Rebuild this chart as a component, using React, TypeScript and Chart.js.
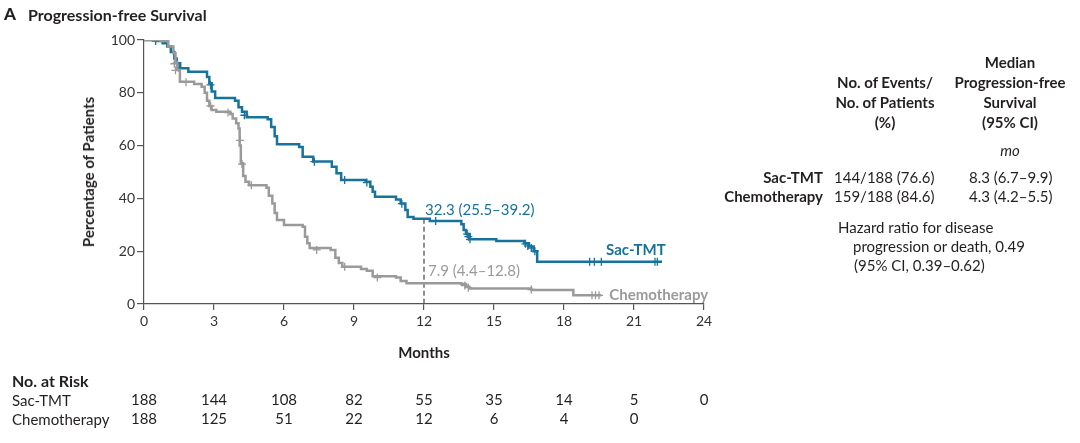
import React, { useEffect, useRef } from 'react';
import { Chart, registerables } from 'chart.js';

Chart.register(...registerables);

const BLUE = '#17739b';
const GRAY = '#9a9a9a';
const INK = '#231f20';
const FONT = 'Lato, "Noto Sans", sans-serif';

// Kaplan-Meier steps: [month, percent after the step]
const sacTmtCurve: [number, number][] = [
  [0, 100], [0.5, 99.6], [0.8, 98.8], [1.0, 97.5], [1.15, 95.5], [1.3, 93], [1.4, 91.2],
  [1.55, 89.3], [1.9, 88], [2.7, 86], [2.8, 83.6], [2.9, 80.5], [3.05, 78], [3.9, 77],
  [4.05, 74.5], [4.2, 72.8], [4.4, 70.7], [5.3, 70], [5.45, 67], [5.6, 63.5], [5.7, 60.5],
  [6.65, 59.5], [6.8, 55.8], [7.25, 54], [8.05, 52], [8.25, 49.5], [8.45, 47], [9.5, 46.3],
  [9.7, 44.4], [9.8, 42.5], [9.9, 40.6], [10.8, 39.6], [11.0, 38.1], [11.2, 35.6],
  [11.3, 33], [11.55, 32.3], [12.25, 31.4], [13.6, 30.2], [13.7, 28], [13.8, 26.5],
  [13.95, 24.5], [15.1, 23.9], [16.3, 23], [16.5, 21.8], [16.7, 20], [16.85, 16], [22.2, 16],
];

const chemoCurve: [number, number][] = [
  [0, 100], [0.7, 99.6], [1.04, 97.5], [1.26, 95], [1.35, 91.5], [1.42, 88.6], [1.54, 84.2],
  [2.15, 83.3], [2.47, 82.3], [2.6, 80], [2.7, 77], [2.8, 75], [2.9, 73.5], [3.1, 72.8],
  [3.7, 72], [3.8, 70.3], [3.95, 68.5], [4.05, 66.5], [4.1, 60], [4.15, 53.3], [4.25, 48.5],
  [4.35, 46.3], [4.5, 45], [5.25, 44], [5.35, 41], [5.5, 38.1], [5.6, 34.5], [5.7, 31.8],
  [6.0, 29.9], [6.8, 29.3], [6.9, 25.5], [7.0, 23], [7.1, 21.2], [8.0, 20.5], [8.2, 17.5],
  [8.35, 15.5], [8.5, 14.1], [9.3, 13.3], [9.55, 12.6], [9.8, 10.5], [10.8, 10], [11.0, 8.7],
  [11.25, 7.9], [13.6, 7.6], [13.8, 6.5], [13.95, 5.9], [16.6, 5.3], [18.4, 3.3], [19.6, 3.3],
];

const sacTmtCensored: [number, number][] = [
  [0.5, 99.6], [1.4, 91.2], [1.5, 89.5], [2.85, 83], [4.3, 71.5], [7.3, 53.9], [8.6, 47],
  [9.55, 46], [11.05, 38], [12.5, 31.4], [13.85, 26.5], [13.9, 25.5], [13.97, 24.5],
  [16.35, 22.8], [16.45, 22], [16.6, 21.2], [16.75, 20], [19.1, 16], [19.3, 16], [19.6, 16],
  [21.9, 16], [22.0, 16],
];

const chemoCensored: [number, number][] = [
  [1.3, 91], [1.35, 88.5], [1.8, 84], [2.85, 75], [3.6, 72.5], [4.12, 62], [4.2, 53],
  [4.6, 45], [7.4, 20.5], [8.6, 14.1], [10.0, 10], [13.75, 7], [13.9, 6.2], [16.6, 5.5],
  [19.2, 3.3], [19.35, 3.3], [19.5, 3.3],
];

const riskMonths = [0, 3, 6, 9, 12, 15, 18, 21, 24];
const sacTmtAtRisk = [188, 144, 108, 82, 55, 35, 14, 5, 0];
const chemoAtRisk = [188, 125, 51, 22, 12, 6, 4, 0];

const landmarkMonth = 12;
const sacTmtLandmark = { value: 32.3, label: '32.3 (25.5\u201339.2)' };
const chemoLandmark = { value: 7.9, label: '7.9 (4.4\u201312.8)' };

const toPoints = (arr: [number, number][]) => arr.map(([x, y]) => ({ x, y }));

const labelPlugin = {
  id: 'kmLabels',
  afterDraw(chart: any) {
    const { ctx, scales } = chart;
    const xs = scales.x;
    const ys = scales.y;
    ctx.save();
    ctx.textBaseline = 'middle';

    // 12-month landmark labels
    ctx.font = `15px ${FONT}`;
    ctx.textAlign = 'left';
    ctx.fillStyle = BLUE;
    ctx.fillText(sacTmtLandmark.label, xs.getPixelForValue(landmarkMonth) + 1, ys.getPixelForValue(sacTmtLandmark.value) - 9);
    ctx.fillStyle = GRAY;
    ctx.fillText(chemoLandmark.label, xs.getPixelForValue(landmarkMonth) + 4, ys.getPixelForValue(chemoLandmark.value) - 12);

    // series labels
    const lastSac = sacTmtCurve[sacTmtCurve.length - 1];
    const lastChemo = chemoCurve[chemoCurve.length - 1];
    ctx.font = `bold 15px ${FONT}`;
    ctx.fillStyle = BLUE;
    ctx.fillText('Sac-TMT', xs.getPixelForValue(19.8), ys.getPixelForValue(lastSac[1]) - 12);
    ctx.fillStyle = GRAY;
    ctx.fillText('Chemotherapy', xs.getPixelForValue(lastChemo[0]) + 8, ys.getPixelForValue(lastChemo[1]));

    // number at risk
    ctx.font = `15px ${FONT}`;
    ctx.fillStyle = INK;
    ctx.textAlign = 'center';
    riskMonths.forEach((m, i) => {
      const px = xs.getPixelForValue(m);
      if (sacTmtAtRisk[i] !== undefined) ctx.fillText(String(sacTmtAtRisk[i]), px, 400);
      if (chemoAtRisk[i] !== undefined) ctx.fillText(String(chemoAtRisk[i]), px, 419);
    });
    ctx.restore();
  },
};

const cell: React.CSSProperties = { position: 'absolute', whiteSpace: 'nowrap', lineHeight: '20px' };

const App: React.FC = () => {
  const canvasRef = useRef<HTMLCanvasElement | null>(null);
  const chartRef = useRef<Chart | null>(null);

  useEffect(() => {
    document.body.style.margin = '0';
    if (!canvasRef.current) return;
    if (chartRef.current) chartRef.current.destroy();

    chartRef.current = new Chart(canvasRef.current, {
      type: 'line',
      data: {
        datasets: [
          {
            label: 'Chemotherapy censored',
            data: toPoints(chemoCensored),
            showLine: false,
            pointStyle: 'cross',
            pointRadius: 4,
            pointBorderWidth: 1.3,
            borderColor: GRAY,
            order: 0,
          },
          {
            label: 'Chemotherapy',
            data: toPoints(chemoCurve),
            stepped: 'before',
            borderColor: GRAY,
            borderWidth: 2.5,
            pointRadius: 0,
            order: 1,
          },
          {
            label: 'Sac-TMT censored',
            data: toPoints(sacTmtCensored),
            showLine: false,
            pointStyle: 'cross',
            pointRadius: 4,
            pointBorderWidth: 1.3,
            borderColor: BLUE,
            order: 2,
          },
          {
            label: 'Sac-TMT',
            data: toPoints(sacTmtCurve),
            stepped: 'before',
            borderColor: BLUE,
            borderWidth: 2.5,
            pointRadius: 0,
            order: 3,
          },
          {
            label: 'landmark',
            data: [
              { x: landmarkMonth, y: sacTmtLandmark.value },
              { x: landmarkMonth, y: 0 },
            ],
            borderColor: '#555',
            borderWidth: 1.3,
            borderDash: [5, 3],
            pointRadius: 0,
            order: 4,
          },
        ],
      },
      options: {
        animation: false,
        responsive: false,
        events: [],
        layout: { padding: { left: 0, top: 40, right: 376, bottom: 0 } },
        plugins: { legend: { display: false }, tooltip: { enabled: false } },
        scales: {
          x: {
            type: 'linear',
            min: 0,
            max: 24,
            afterFit: (s: any) => { s.height = 139; },
            ticks: { stepSize: 3, color: '#333', font: { family: FONT, size: 14 }, padding: 3 },
            grid: { drawOnChartArea: false, drawTicks: true, tickLength: 6, color: '#555', lineWidth: 1.2 },
            border: { color: '#555', width: 1.2 },
          },
          y: {
            type: 'linear',
            min: 0,
            max: 100,
            afterFit: (s: any) => { s.width = 144; },
            ticks: { stepSize: 20, color: '#333', font: { family: FONT, size: 14 }, padding: 2 },
            grid: { drawOnChartArea: false, drawTicks: true, tickLength: 7, color: '#555', lineWidth: 1.2 },
            border: { color: '#555', width: 1.2 },
          },
        },
      },
      plugins: [labelPlugin],
    } as any);

    return () => {
      chartRef.current?.destroy();
      chartRef.current = null;
    };
  }, []);

  return (
    <div style={{ position: 'relative', width: 1080, height: 443, fontFamily: FONT, color: INK, fontSize: 15 }}>
      <canvas ref={canvasRef} width={1080} height={443} style={{ position: 'absolute', left: 0, top: 0 }} />

      <div style={{ ...cell, left: 4, top: 4, fontWeight: 900, fontSize: 17 }}>A</div>
      <div style={{ ...cell, left: 28, top: 5, fontWeight: 700, fontSize: 16 }}>Progression-free Survival</div>

      <div
        style={{
          ...cell,
          left: 88,
          top: 172,
          fontWeight: 700,
          transform: 'translate(-50%, -50%) rotate(-90deg)',
        }}
      >
        Percentage of Patients
      </div>
      <div style={{ ...cell, left: 424, top: 342, fontWeight: 700, transform: 'translateX(-50%)' }}>Months</div>

      <div style={{ ...cell, left: 12, top: 371, fontWeight: 700, fontSize: 16 }}>No. at Risk</div>
      <div style={{ ...cell, left: 12, top: 390 }}>Sac-TMT</div>
      <div style={{ ...cell, left: 12, top: 409 }}>Chemotherapy</div>

      <div style={{ ...cell, left: 885, top: 72, width: 0, textAlign: 'center', fontWeight: 700 }}>
        <div style={{ transform: 'translateX(-50%)', display: 'inline-block' }}>
          No. of Events/<br />No. of Patients<br />(%)
        </div>
      </div>
      <div style={{ ...cell, left: 1010, top: 52, width: 0, textAlign: 'center', fontWeight: 700 }}>
        <div style={{ transform: 'translateX(-50%)', display: 'inline-block' }}>
          Median<br />Progression-free<br />Survival<br />(95% CI)
        </div>
      </div>
      <div style={{ ...cell, left: 1010, top: 140, fontStyle: 'italic', transform: 'translateX(-50%)' }}>mo</div>

      <div style={{ ...cell, right: 1080 - 823, top: 167, fontWeight: 700 }}>Sac-TMT</div>
      <div style={{ ...cell, right: 1080 - 823, top: 186, fontWeight: 700 }}>Chemotherapy</div>
      <div style={{ ...cell, left: 834, top: 167 }}>144/188 (76.6)</div>
      <div style={{ ...cell, left: 834, top: 186 }}>159/188 (84.6)</div>
      <div style={{ ...cell, left: 969, top: 167 }}>8.3 (6.7{'\u2013'}9.9)</div>
      <div style={{ ...cell, left: 969, top: 186 }}>4.3 (4.2{'\u2013'}5.5)</div>

      <div style={{ ...cell, left: 838, top: 217 }}>Hazard ratio for disease</div>
      <div style={{ ...cell, left: 853, top: 236 }}>progression or death, 0.49</div>
      <div style={{ ...cell, left: 854, top: 255 }}>(95% CI, 0.39{'\u2013'}0.62)</div>
    </div>
  );
};

export default App;
